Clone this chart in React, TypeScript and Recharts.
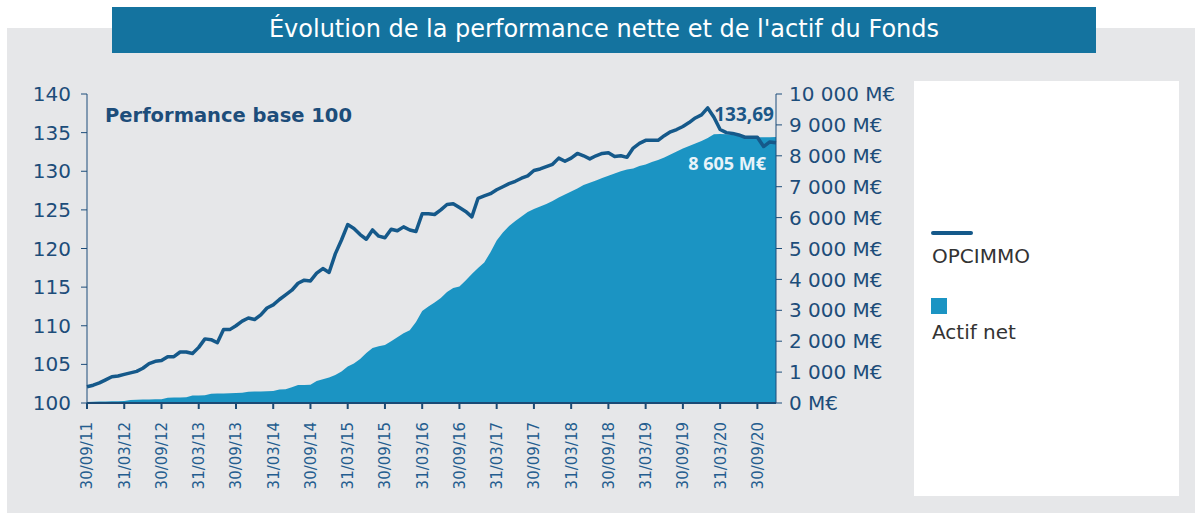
import React from 'react'
import {
  ComposedChart,
  Area,
  Line,
  XAxis,
  YAxis,
  ReferenceDot,
} from 'recharts'

// monthly points, 30/09/11 -> 31/12/20
const PERF = [
  102.1, 102.3, 102.6, 103.0, 103.4, 103.5, 103.7, 103.9, 104.1, 104.5, 105.1, 105.4,
  105.5, 106.0, 106.0, 106.6, 106.6, 106.4, 107.2, 108.3, 108.2, 107.8, 109.5, 109.5,
  110.0, 110.6, 111.0, 110.8, 111.4, 112.3, 112.7, 113.4, 114.0, 114.6, 115.5, 115.9,
  115.8, 116.8, 117.4, 116.9, 119.3, 121.1, 123.1, 122.6, 121.8, 121.2, 122.4, 121.6,
  121.4, 122.5, 122.3, 122.8, 122.4, 122.2, 124.5, 124.5, 124.4, 125.0, 125.7, 125.8,
  125.3, 124.8, 124.1, 126.5, 126.8, 127.1, 127.6, 128.0, 128.4, 128.7, 129.1, 129.4,
  130.1, 130.3, 130.6, 130.9, 131.7, 131.3, 131.7, 132.3, 132.0, 131.6, 132.0, 132.3,
  132.4, 131.9, 132.0, 131.8, 133.0, 133.6, 134.0, 134.0, 134.0, 134.6, 135.1, 135.4,
  135.8, 136.3, 136.9, 137.3, 138.2, 137.0, 135.4, 135.0, 134.9, 134.7, 134.4, 134.4,
  134.4, 133.2, 133.8, 133.69,
]

// actif net, M€
const ACTIF = [
  30, 40, 45, 50, 55, 60, 65, 100, 105, 110, 115, 120,
  125, 170, 175, 180, 185, 240, 245, 250, 300, 305, 310, 315,
  320, 330, 365, 370, 375, 380, 385, 440, 445, 508, 582, 585,
  590, 712, 767, 825, 906, 1020, 1180, 1278, 1424, 1618, 1780, 1835,
  1877, 1997, 2129, 2255, 2352, 2621, 2977, 3123, 3252, 3398, 3592, 3721,
  3770, 3964, 4174, 4369, 4547, 4880, 5258, 5517, 5728, 5890, 6035, 6181,
  6278, 6359, 6440, 6537, 6650, 6747, 6844, 6941, 7054, 7126, 7200, 7281,
  7352, 7427, 7498, 7556, 7588, 7669, 7718, 7799, 7863, 7944, 8041, 8138,
  8236, 8316, 8397, 8478, 8575, 8695, 8705, 8698, 8679, 8666, 8640, 8617,
  8601, 8601, 8601, 8605,
]

const DATE_LABELS = [
  '30/09/11', '31/03/12', '30/09/12', '31/03/13', '30/09/13', '31/03/14', '30/09/14',
  '31/03/15', '30/09/15', '31/03/16', '30/09/16', '31/03/17', '30/09/17', '31/03/18',
  '30/09/18', '31/03/19', '30/09/19', '31/03/20', '30/09/20',
]

const PERF_TICKS = [100, 105, 110, 115, 120, 125, 130, 135, 140]
const ACTIF_TICKS = [0, 1000, 2000, 3000, 4000, 5000, 6000, 7000, 8000, 9000, 10000]

const LAST_PERF = '133,69'
const LAST_ACTIF = '8 605 M€'

const FONT = '"DejaVu Sans", sans-serif'
const BOLD_FONT = '"Open Sans", sans-serif'
const NAVY = '#1d4d7a'
const LINE_BLUE = '#15598a'
const AREA_BLUE = '#1b94c3'

const data = PERF.map((p, i) => ({ m: i, perf: p, actif: ACTIF[i] }))
const xTicks = DATE_LABELS.map((_, i) => i * 6)

const fmtMe = (v: number) => String(v).replace(/\B(?=(\d{3})+(?!\d))/g, ' ') + ' M€'

const XTick = (props: any) => {
  const { x, y, payload } = props
  const label = DATE_LABELS[Math.round(payload.value / 6)]
  return (
    <text
      x={x}
      y={y}
      transform={`rotate(-90, ${x}, ${y})`}
      textAnchor="end"
      dy="0.36em"
      fill="#245d8f"
      fontSize={15}
      fontFamily={FONT}
    >
      {label}
    </text>
  )
}

export default function App() {
  return (
    <div style={{ position: 'absolute', left: 0, top: 0, width: 1195, height: 513, background: '#fff', fontFamily: FONT }}>
      <div style={{ position: 'absolute', left: 7, top: 28, width: 1188, height: 485, background: '#e6e7e9' }} />
      <div
        style={{
          position: 'absolute', left: 112, top: 7, width: 984, height: 46, background: '#14739f',
          color: '#fff', fontSize: 24, lineHeight: '44px', textAlign: 'center',
        }}
      >
        Évolution de la performance nette et de l'actif du Fonds
      </div>

      <div style={{ position: 'absolute', left: 914, top: 81, width: 265, height: 415, background: '#fff' }}>
        <div style={{ position: 'absolute', left: 17, top: 150, width: 42, height: 4, borderRadius: 2, background: LINE_BLUE }} />
        <div style={{ position: 'absolute', left: 18, top: 163, fontSize: 20, lineHeight: '24px', color: '#333' }}>OPCIMMO</div>
        <div style={{ position: 'absolute', left: 17, top: 217, width: 16, height: 16, background: AREA_BLUE }} />
        <div style={{ position: 'absolute', left: 18, top: 239, fontSize: 20, lineHeight: '24px', color: '#333' }}>Actif net</div>
      </div>

      <div style={{ position: 'absolute', left: 0, top: 0 }}>
        <ComposedChart width={900} height={513} data={data} margin={{ top: 94, right: 0, bottom: 0, left: 0 }}>
          <XAxis
            dataKey="m"
            type="number"
            domain={[0, 111]}
            ticks={xTicks}
            interval={0}
            height={110}
            tickSize={6}
            tickMargin={13}
            tick={XTick}
            stroke="#1a4a75"
            strokeWidth={2}
          />
          <YAxis
            yAxisId="left"
            orientation="left"
            width={87}
            domain={[100, 140]}
            ticks={PERF_TICKS}
            interval={0}
            tickSize={6}
            tickMargin={10}
            stroke={NAVY}
            tick={{ fill: NAVY, fontSize: 20, fontFamily: FONT }}
          />
          <YAxis
            yAxisId="right"
            orientation="right"
            width={124}
            domain={[0, 10000]}
            ticks={ACTIF_TICKS}
            interval={0}
            tickSize={6}
            tickMargin={7}
            stroke={NAVY}
            tickFormatter={fmtMe}
            tick={{ fill: NAVY, fontSize: 20, fontFamily: FONT }}
          />
          <Area
            yAxisId="right"
            dataKey="actif"
            type="linear"
            fill={AREA_BLUE}
            fillOpacity={1}
            stroke="none"
            isAnimationActive={false}
          />
          <Line
            yAxisId="left"
            dataKey="perf"
            type="linear"
            stroke={LINE_BLUE}
            strokeWidth={3.5}
            strokeLinejoin="round"
            dot={false}
            isAnimationActive={false}
          />
          <ReferenceDot
            yAxisId="left"
            x={111}
            y={133.69}
            r={1}
            fill="none"
            stroke="none"
            label={(p: any) => {
              const vb = p.viewBox || { x: 0, y: 0, width: 0, height: 0 }
              const cx = vb.x + vb.width / 2
              const cy = vb.y + vb.height / 2
              return (
                <text x={cx - 2} y={cy - 22} textAnchor="end" fill="#1b5787" fontSize={19} fontWeight={700} fontFamily={BOLD_FONT}>
                  {LAST_PERF}
                </text>
              )
            }}
          />
          <ReferenceDot
            yAxisId="right"
            x={111}
            y={8605}
            r={1}
            fill="none"
            stroke="none"
            label={(p: any) => {
              const vb = p.viewBox || { x: 0, y: 0, width: 0, height: 0 }
              const cx = vb.x + vb.width / 2
              const cy = vb.y + vb.height / 2
              return (
                <text x={cx - 10} y={cy + 33} textAnchor="end" fill="#e8f3f9" fontSize={18} fontWeight={700} fontFamily={BOLD_FONT}>
                  {LAST_ACTIF}
                </text>
              )
            }}
          />
        </ComposedChart>
      </div>

      <div style={{ position: 'absolute', left: 105, top: 103, fontSize: 19.5, fontWeight: 700, color: NAVY, lineHeight: '26px' }}>
        Performance base 100
      </div>
    </div>
  )
}
